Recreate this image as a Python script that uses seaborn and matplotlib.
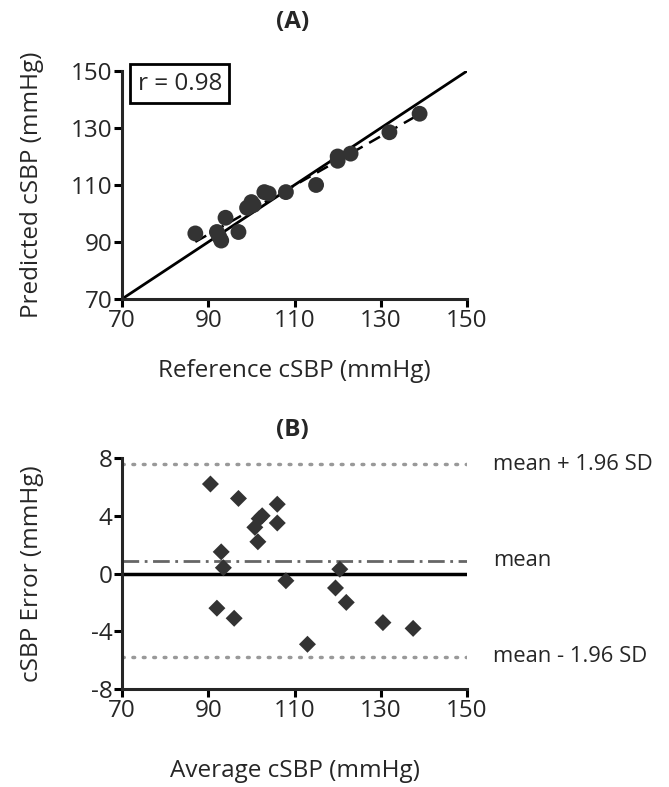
import numpy as np
import pandas as pd
import seaborn as sns
import matplotlib.pyplot as plt
from matplotlib import transforms

# Panel A: reference vs predicted cSBP (mmHg)
ref_sbp = [87, 92, 92.5, 93, 94, 97, 99, 100, 100.5, 103, 104, 108, 115, 120, 120, 123, 132, 139]
pred_sbp = [93, 93.5, 92, 90.5, 98.5, 93.5, 102, 104, 103, 107.5, 107, 107.5, 110, 118.5, 120, 121, 128.5, 135]
r_text = "r = 0.98"

# Panel B: Bland-Altman (average vs error)
avg_sbp = [90.5, 97, 106, 102.5, 101.8, 100.8, 106, 101.5, 93, 93.5, 108, 120.5, 119.5, 122, 92, 96, 130.5, 137.5, 113]
err_sbp = [6.2, 5.2, 4.8, 4.0, 3.8, 3.2, 3.5, 2.2, 1.5, 0.4, -0.5, 0.3, -1.0, -2.0, -2.4, -3.1, -3.4, -3.8, -4.9]
bias = 0.9
sd = 3.4
upper = bias + 1.96 * sd
lower = bias - 1.96 * sd

sns.set_theme(style="ticks")
plt.rcParams['font.family'] = ['Open Sans', 'DejaVu Sans']
plt.rcParams['axes.unicode_minus'] = False

fig = plt.figure(figsize=(6.69, 7.87), dpi=100)
axA = fig.add_axes([0.1824, 0.6201, 0.5157, 0.2897])
axB = fig.add_axes([0.1824, 0.1245, 0.5157, 0.2935])

dark = "#333333"
fs = 17.5
dfA = pd.DataFrame({"ref": ref_sbp, "pred": pred_sbp})
dfB = pd.DataFrame({"avg": avg_sbp, "err": err_sbp})

# ---- Panel A ----
axA.plot([70, 150], [70, 150], color="black", lw=2.0, zorder=1)
sns.regplot(data=dfA, x="ref", y="pred", ax=axA, scatter=False, ci=None,
            line_kws=dict(color="black", lw=1.8, ls=(0, (5, 3))))
sns.scatterplot(data=dfA, x="ref", y="pred", ax=axA, s=130, color=dark,
                edgecolor="none", zorder=3)
axA.set_xlim(70, 150)
axA.set_ylim(70, 150)
axA.set_xticks([70, 90, 110, 130, 150])
axA.set_yticks([70, 90, 110, 130, 150])
axA.set_xlabel("Reference cSBP (mmHg)", fontsize=fs)
axA.set_ylabel("Predicted cSBP (mmHg)", fontsize=fs)
axA.xaxis.set_label_coords(0.5, -0.265)
axA.yaxis.set_label_coords(-0.225, 0.5)
axA.text(0.045, 0.945, r_text, transform=axA.transAxes, fontsize=fs,
         va="center", ha="left",
         bbox=dict(boxstyle="square,pad=0.3", facecolor="white", edgecolor="black", lw=2))

# ---- Panel B ----
axB.axhline(0, color="black", lw=2.5, zorder=1)
axB.axhline(bias, color="#666666", lw=2, ls=(0, (6, 2, 1, 2)), zorder=1)
axB.axhline(upper, color="#999999", lw=2.5, ls=(0, (0.5, 2.5)), dash_capstyle="round", zorder=1)
axB.axhline(lower, color="#999999", lw=2.5, ls=(0, (0.5, 2.5)), dash_capstyle="round", zorder=1)
sns.scatterplot(data=dfB, x="avg", y="err", ax=axB, marker="D", s=75, color=dark,
                edgecolor="none", zorder=3)
axB.set_xlim(70, 150)
axB.set_ylim(-8, 8)
axB.set_xticks([70, 90, 110, 130, 150])
axB.set_yticks([-8, -4, 0, 4, 8])
axB.set_xlabel("Average cSBP (mmHg)", fontsize=fs)
axB.set_ylabel("cSBP Error (mmHg)", fontsize=fs)
axB.xaxis.set_label_coords(0.5, -0.305)
axB.yaxis.set_label_coords(-0.225, 0.5)

trans = transforms.blended_transform_factory(axB.transAxes, axB.transData)
for yv, lab in [(upper, "mean + 1.96 SD"), (bias, "mean"), (lower, "mean - 1.96 SD")]:
    axB.text(1.075, yv, lab, transform=trans, fontsize=15.8, va="center", ha="left")

for ax in (axA, axB):
    sns.despine(ax=ax)
    ax.spines["left"].set_linewidth(2.2)
    ax.spines["bottom"].set_linewidth(2.2)
    ax.tick_params(direction="out", length=6, width=2.2, labelsize=fs, pad=1, color="black")

fig.text(0.437, 1 - 22 / 787, "(A)", fontsize=fs, fontweight="bold", ha="center", va="center")
fig.text(0.437, 1 - 430 / 787, "(B)", fontsize=fs, fontweight="bold", ha="center", va="center")

fig.savefig("out.png", dpi=100)
